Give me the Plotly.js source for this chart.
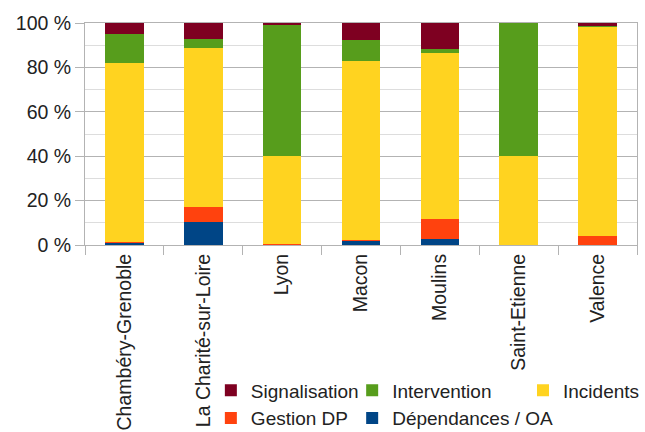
<!DOCTYPE html>
<html>
<head>
<meta charset="utf-8">
<script src="https://cdn.plot.ly/plotly-3.0.1.min.js"></script>
<style>html,body{margin:0;padding:0;background:#fff;}#chart{width:645px;height:432px;}</style>
</head>
<body>
<div id="chart"></div>
<script>
const categories = ["Chambéry-Grenoble", "La Charité-sur-Loire", "Lyon", "Macon", "Moulins", "Saint-Etienne", "Valence"];
const dependances = [0.8, 10.3, 0, 1.8, 2.8, 0, 0];
const gestionDP = [0.4, 6.9, 0.3, 0.6, 8.7, 0, 4.0];
const incidents = [81.0, 71.7, 39.7, 80.7, 75.0, 40.0, 94.2];
const intervention = [12.7, 4.1, 58.9, 9.3, 1.8, 60.0, 0.5];
const signalisation = [5.1, 7.0, 1.1, 7.6, 11.7, 0, 1.3];
const yTickVals = [0, 20, 40, 60, 80, 100];
const yTickText = ["0 %", "20 %", "40 %", "60 %", "80 %", "100 %"];

const series = [
  {name: "Dépendances / OA", y: dependances, color: "#004586", legend: "legend2"},
  {name: "Gestion DP", y: gestionDP, color: "#ff420e", legend: "legend"},
  {name: "Incidents", y: incidents, color: "#ffd320", legend: "legend3"},
  {name: "Intervention", y: intervention, color: "#579d1c", legend: "legend2"},
  {name: "Signalisation", y: signalisation, color: "#7e0021", legend: "legend"}
];

const traces = series.map(s => ({
  type: "bar",
  name: s.name,
  x: categories,
  y: s.y,
  marker: {color: s.color, line: {width: 0}},
  legend: s.legend,
  hoverinfo: "name+y"
}));

const font = {family: "Liberation Sans, Arial, sans-serif", size: 19.5, color: "#222"};
const legendBase = {
  orientation: "v",
  traceorder: "reversed",
  font: {family: font.family, size: 19, color: "#222"},
  bgcolor: "rgba(0,0,0,0)",
  xref: "paper", yref: "container",
  xanchor: "left", yanchor: "top",
  y: 0.14,
  itemwidth: 30,
  tracegroupgap: 0
};

const layout = {
  width: 645, height: 432,
  margin: {l: 85, r: 8, t: 23, b: 187},
  paper_bgcolor: "#fff", plot_bgcolor: "#fff",
  barmode: "stack",
  bargap: 0.51,
  font: font,
  showlegend: true,
  xaxis: {
    type: "category",
    tickson: "boundaries",
    ticks: "outside", ticklen: 9, tickcolor: "#b3b3b3", tickwidth: 1,
    tickangle: -90,
    showline: true, linecolor: "#b3b3b3", linewidth: 1, mirror: true,
    showgrid: false,
    tickfont: font
  },
  yaxis: {
    range: [0, 100],
    tickmode: "array",
    tickvals: yTickVals,
    ticktext: yTickText,
    ticks: "outside", ticklen: 9, tickcolor: "#b3b3b3",
    showline: true, linecolor: "#b3b3b3", linewidth: 1, mirror: true,
    showgrid: true, gridcolor: "#b3b3b3", gridwidth: 1,
    zeroline: false,
    minor: {dtick: 10, showgrid: true, gridcolor: "#dddddd", gridwidth: 1},
    tickfont: font
  },
  legend: Object.assign({}, legendBase, {x: 0.228}),
  legend2: Object.assign({}, legendBase, {x: 0.484}),
  legend3: Object.assign({}, legendBase, {x: 0.844})
};

Plotly.newPlot("chart", traces, layout, {displayModeBar: false, staticPlot: true});
</script>
</body>
</html>
